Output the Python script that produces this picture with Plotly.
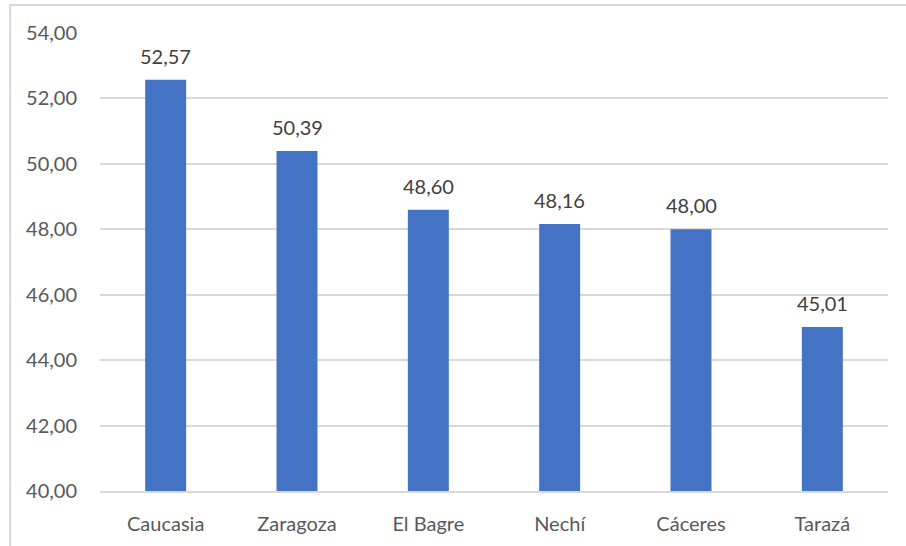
import plotly.graph_objects as go

# Municipios y valores
municipios = ["Caucasia", "Zaragoza", "El Bagre", "Nechí", "Cáceres", "Tarazá"]
valores = [52.57, 50.39, 48.60, 48.16, 48.00, 45.01]
y_ticks = [40, 42, 44, 46, 48, 50, 52, 54]

fig = go.Figure()
fig.add_trace(go.Bar(
    x=municipios,
    y=valores,
    marker=dict(color="#4472C4", line=dict(width=0)),
    hoverinfo="x+y",
))

# etiquetas de datos encima de cada barra
for m, v in zip(municipios, valores):
    fig.add_annotation(
        x=m, y=v, text=f"{v:.2f}".replace(".", ","),
        showarrow=False, yanchor="bottom", yshift=10,
        font=dict(size=20, color="#404040", family="Lato"),
    )

fig.update_layout(
    width=906, height=546,
    margin=dict(l=100, r=18, t=33, b=55),
    paper_bgcolor="white", plot_bgcolor="white",
    separators=",.",
    bargap=0.688,
    showlegend=False,
    font=dict(family="Lato", color="#595959", size=20),
)

fig.update_yaxes(
    range=[40, 54], tickvals=y_ticks, tickformat=".2f",
    showgrid=True, gridcolor="#d9d9d9", gridwidth=1.5,
    zeroline=False, showline=False,
    ticks="outside", ticklen=18, tickcolor="rgba(0,0,0,0)",
    tickfont=dict(size=20, color="#595959"),
)
fig.update_xaxes(
    showline=True, linecolor="#d9d9d9", linewidth=1.5,
    ticks="outside", ticklen=14, tickcolor="rgba(0,0,0,0)",
    tickfont=dict(size=20, color="#595959"),
)

# Marco del gráfico (borde de Excel)
fig.add_shape(type="rect", xref="paper", yref="paper",
              x0=-0.114, x1=1.1, y0=-0.2, y1=1.061,
              line=dict(color="#d9d9d9", width=2), layer="below")

# quitar el margen del body para que la figura empiece en (0,0)
fig.write_html("out.html", config={"displayModeBar": False},
               post_script="document.body.style.margin='0';")
